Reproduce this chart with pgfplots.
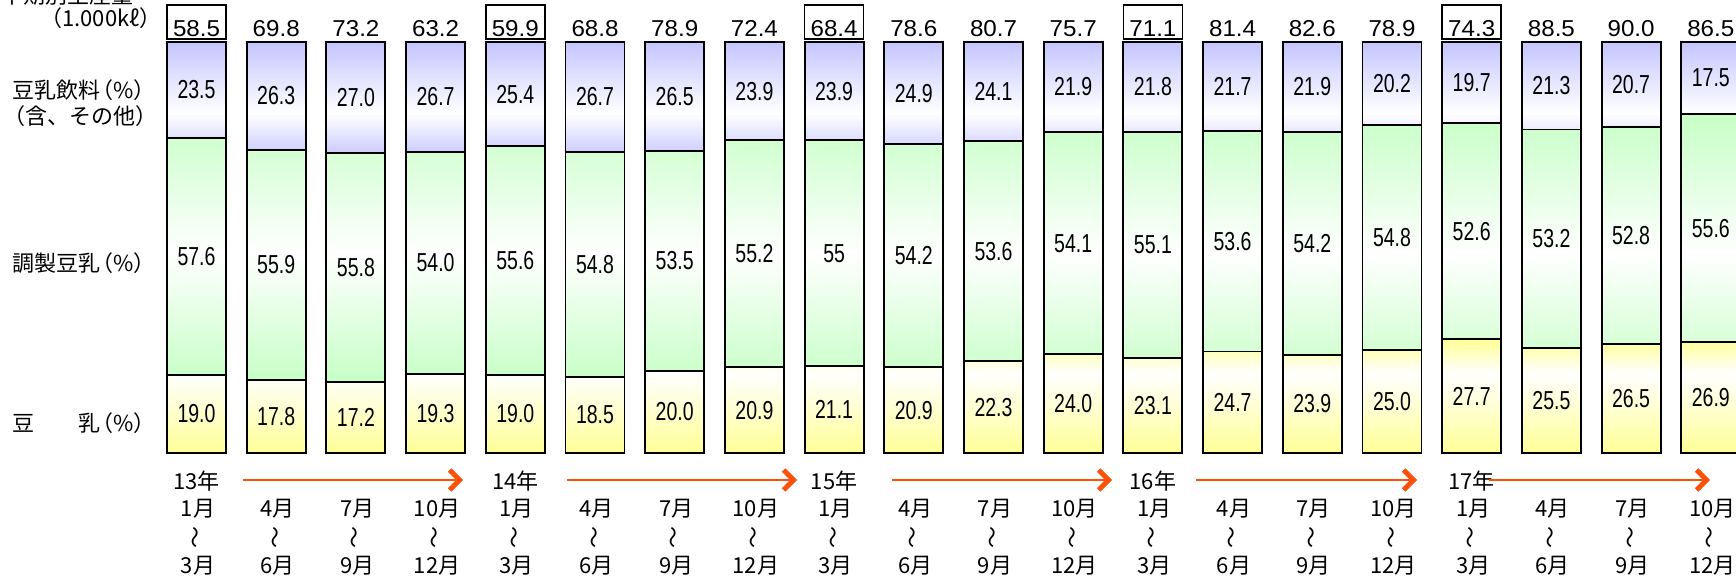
\documentclass[border=0pt]{standalone}
\usepackage{pgfplots}
\pgfplotsset{compat=1.18}
\usepackage{pgfplotstable}
\usetikzlibrary{arrows.meta}
\usepackage{fontspec}
\setmainfont{Noto Sans CJK JP}
\newfontfamily\narrowfont[FakeStretch=0.75]{Liberation Sans}
\newfontfamily\totfont[FakeStretch=1.05]{Liberation Sans}
\newcommand\seglab{\narrowfont\fontsize{13pt}{13pt}\selectfont}
\newcommand\totlab{\totfont\fontsize{11.5pt}{11.5pt}\selectfont}
\newcommand\jplab{\fontsize{11pt}{11pt}\selectfont}

\definecolor{blueC}{RGB}{196,196,255}
\definecolor{greenC}{RGB}{198,255,198}
\definecolor{yellowC}{RGB}{255,255,150}
\definecolor{arrowC}{RGB}{255,80,10}
\pgfdeclareverticalshading{blueshade}{100bp}{color(0bp)=(blueC!85!white); color(25bp)=(blueC!85!white); color(43bp)=(white); color(75bp)=(blueC); color(100bp)=(blueC)}
\pgfdeclareverticalshading{greenshade}{100bp}{color(0bp)=(greenC); color(25bp)=(greenC); color(49bp)=(white); color(75bp)=(greenC); color(100bp)=(greenC)}
\pgfdeclareverticalshading{yellowshade}{100bp}{color(0bp)=(yellowC); color(25bp)=(yellowC); color(60bp)=(white); color(75bp)=(yellowC); color(100bp)=(yellowC)}

\pgfplotstableread{
idx soy adj drink total
1 19.0 57.6 23.5 58.5
2 17.8 55.9 26.3 69.8
3 17.2 55.8 27.0 73.2
4 19.3 54.0 26.7 63.2
5 19.0 55.6 25.4 59.9
6 18.5 54.8 26.7 68.8
7 20.0 53.5 26.5 78.9
8 20.9 55.2 23.9 72.4
9 21.1 55 23.9 68.4
10 20.9 54.2 24.9 78.6
11 22.3 53.6 24.1 80.7
12 24.0 54.1 21.9 75.7
13 23.1 55.1 21.8 71.1
14 24.7 53.6 21.7 81.4
15 23.9 54.2 21.9 82.6
16 25.0 54.8 20.2 78.9
17 27.7 52.6 19.7 74.3
18 25.5 53.2 21.3 88.5
19 26.5 52.8 20.7 90.0
20 26.9 55.6 17.5 86.5
}\datatable

\pgfplotsset{samegeom/.style={at={(78.33pt,63pt)}, anchor=south west, scale only axis,
  width=797pt, height=205.5pt, xmin=0.5, xmax=20.5, ymin=0, ymax=100, hide axis, clip=false}}

\begin{document}
\begin{tikzpicture}
\useasboundingbox (0,0) rectangle (868pt,289.5pt);
\clip (0,0) rectangle (868pt,289.5pt);
% shaded segments
\begin{axis}[samegeom, ybar stacked, bar width=0.74]
\addplot[draw=none, fill=yellowC, shading=yellowshade] table[x=idx,y=soy]{\datatable};
\addplot[draw=none, fill=greenC, shading=greenshade] table[x=idx,y=adj]{\datatable};
\addplot[draw=none, fill=blueC, shading=blueshade] table[x=idx,y=drink]{\datatable};
\end{axis}
% outlines on top
\begin{axis}[samegeom, ybar stacked, bar width=0.74]
\addplot[draw=black, line width=0.95pt, fill=none] table[x=idx,y=soy]{\datatable};
\addplot[draw=black, line width=0.95pt, fill=none] table[x=idx,y=adj]{\datatable};
\addplot[draw=black, line width=0.95pt, fill=none] table[x=idx,y=drink]{\datatable};
\end{axis}
\begin{axis}[samegeom]
\addplot[draw=none, mark=none, nodes near coords={\pgfplotspointmeta}, point meta=explicit symbolic,
  nodes near coords align={center}, every node near coord/.append style={font=\seglab, inner sep=0pt}]
  table[x=idx, y expr=\thisrow{soy}/2, meta=soy]{\datatable};
\addplot[draw=none, mark=none, nodes near coords={\pgfplotspointmeta}, point meta=explicit symbolic,
  nodes near coords align={center}, every node near coord/.append style={font=\seglab, inner sep=0pt}]
  table[x=idx, y expr=\thisrow{soy}+\thisrow{adj}/2, meta=adj]{\datatable};
\addplot[draw=none, mark=none, nodes near coords={\pgfplotspointmeta}, point meta=explicit symbolic,
  nodes near coords align={center}, every node near coord/.append style={font=\seglab, inner sep=0pt}]
  table[x=idx, y expr=\thisrow{soy}+\thisrow{adj}+\thisrow{drink}/2, meta=drink]{\datatable};
\addplot[draw=none, mark=none, nodes near coords={\pgfplotspointmeta}, point meta=explicit symbolic,
  nodes near coords align={center}, every node near coord/.append style={font=\totlab, inner sep=0pt,
  text height=8.2pt, text depth=0pt, yshift=6.8pt}]
  table[x=idx, y expr=100, meta=total]{\datatable};
\addplot[draw=none, mark=none, nodes near coords={}, 
  nodes near coords align={center}, every node near coord/.append style={draw=black, line width=0.75pt,
  minimum width=29.5pt, minimum height=17pt, inner sep=0pt, yshift=10pt}]
  coordinates {(1,100) (5,100) (9,100) (13,100) (17,100)};
\end{axis}

% left labels
\node[anchor=base east, inner sep=0pt, font=\jplab] at (67pt,287.8pt) {四半期別生産量};
\node[anchor=east, inner sep=0pt, font=\jplab] at (81pt,280.5pt) {（1.000kℓ）};
\node[anchor=west, inner sep=0pt, font=\jplab] at (6pt,244.5pt) {豆乳飲料\kern-0.4em（\%）};
\node[anchor=west, inner sep=0pt, font=\jplab] at (1.5pt,231.5pt) {（含、その他）};
\node[anchor=west, inner sep=0pt, font=\jplab] at (6pt,158pt) {調製豆乳\kern-0.4em（\%）};
\node[anchor=west, inner sep=0pt, font=\jplab] at (6pt,78pt) {豆　　乳\kern-0.4em（\%）};

% x labels
\foreach \i/\ma/\mb in {1/1/3,2/4/6,3/7/9,4/10/12,5/1/3,6/4/6,7/7/9,8/10/12,9/1/3,10/4/6,11/7/9,12/10/12,13/1/3,14/4/6,15/7/9,16/10/12,17/1/3,18/4/6,19/7/9,20/10/12}{
  \node[inner sep=0pt, font=\jplab] at ({(78.33+39.85*(\i-0.5)+0.7)*1pt},35pt) {{\ma}月};
  \node[inner sep=0pt, font=\jplab, rotate=90] at ({(78.33+39.85*(\i-0.5)+0.7)*1pt},21pt) {〜};
  \node[inner sep=0pt, font=\jplab] at ({(78.33+39.85*(\i-0.5)+0.7)*1pt},6.5pt) {{\mb}月};
}
\foreach \i/\yr in {1/13,5/14,9/15,13/16,17/17}{
  \node[inner sep=0pt, font=\jplab] at ({(78.33+39.85*(\i-0.5))*1pt},49pt) {{\yr}年};
}
\foreach \s/\e in {121.5/231.5, 283.5/398.5, 446/556, 598/708.5, 744.5/855}{
  \draw[arrowC, line width=1pt, -{Straight Barb[length=5pt, width=10pt, line width=2.4pt]}] (\s pt,49.5pt) -- (\e pt,49.5pt);
}
\end{tikzpicture}
\end{document}
